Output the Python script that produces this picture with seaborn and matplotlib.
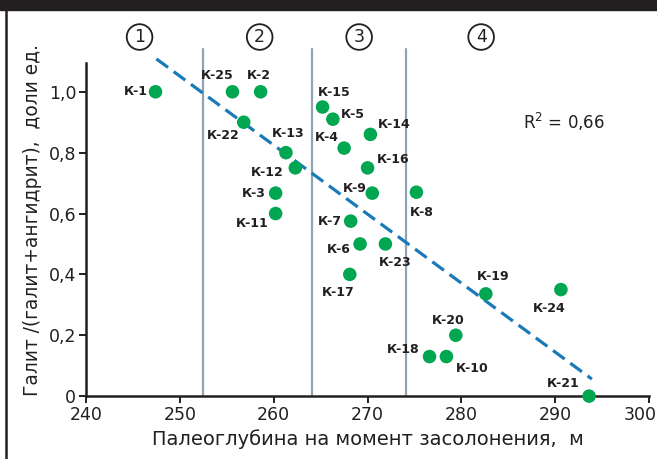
import numpy as np
import pandas as pd
import seaborn as sns
import matplotlib.pyplot as plt
from matplotlib.patches import Rectangle
from matplotlib.lines import Line2D
from matplotlib.transforms import ScaledTranslation

# well names, paleodepth (m) and halite share
wells = ['К-1', 'К-25', 'К-2', 'К-22', 'К-13', 'К-12', 'К-3', 'К-11',
         'К-15', 'К-5', 'К-14', 'К-4', 'К-16', 'К-9', 'К-8', 'К-7',
         'К-6', 'К-23', 'К-17', 'К-19', 'К-24', 'К-20', 'К-18', 'К-10', 'К-21']
depth = [247.4, 255.6, 258.6, 256.8, 261.3, 262.3, 260.2, 260.2,
         265.2, 266.3, 270.3, 267.5, 270.0, 270.5, 275.2, 268.2,
         269.2, 271.9, 268.1, 282.6, 290.6, 279.4, 276.6, 278.4, 293.6]
halite = [1.0, 1.0, 1.0, 0.9, 0.8, 0.75, 0.667, 0.6,
          0.95, 0.91, 0.86, 0.815, 0.75, 0.667, 0.67, 0.575,
          0.5, 0.5, 0.4, 0.336, 0.35, 0.2, 0.13, 0.13, 0.0]

# zone boundaries and zone numbers
zone_bounds = [252.5, 264.1, 274.1]
zone_names = ['1', '2', '3', '4']
zone_x = [245.7, 258.5, 269.1, 282.1]

# trend line endpoints
trend_x = [247.5, 293.9]
trend_y = [1.108, 0.056]
r2_text = 'R$^2$ = 0,66'

xticks = [240, 250, 260, 270, 280, 290, 300]
yticks = [0, 0.2, 0.4, 0.6, 0.8, 1.0]
ytick_labels = ['0', '0,2', '0,4', '0,6', '0,8', '1,0']

# label placement: (dx px, dy px, ha)
label_pos = {
    'К-1': (-8, 0, 'right'), 'К-25': (-15, 16, 'center'), 'К-2': (-2, 16, 'center'),
    'К-22': (-20, -13, 'center'), 'К-13': (2, 19, 'center'), 'К-12': (-12, -5, 'right'),
    'К-3': (-10, 0, 'right'), 'К-11': (-7, -10, 'right'), 'К-15': (12, 15, 'center'),
    'К-5': (8, 5, 'left'), 'К-14': (7, 10, 'left'), 'К-4': (-5, 11, 'right'),
    'К-16': (9, 8, 'left'), 'К-9': (-6, 5, 'right'), 'К-8': (5, -20, 'center'),
    'К-7': (-9, 0, 'right'), 'К-6': (-9, -6, 'right'), 'К-23': (10, -19, 'center'),
    'К-17': (-12, -18, 'center'), 'К-19': (7, 17, 'center'), 'К-24': (-12, -19, 'center'),
    'К-20': (-8, 15, 'center'), 'К-18': (-10, 7, 'right'), 'К-10': (26, -12, 'center'),
    'К-21': (-26, 13, 'center'),
}

df = pd.DataFrame({'well': wells, 'depth': depth, 'halite': halite})

sns.set_style('ticks')
plt.rcParams['font.family'] = ['DejaVu Sans']
ink = '#231f20'

fig = plt.figure(figsize=(6.57, 4.59), dpi=100)
ax = fig.add_axes([0.131, 0.137, 0.857, 0.726])

for xb in zone_bounds:
    ax.plot([xb, xb], [0, 1.14], color='#8ea3b4', lw=1.6, clip_on=False, zorder=1)

ax.plot(trend_x, trend_y, color='#1a7ab8', lw=2.3, dashes=(4.5, 2.2), clip_on=False, zorder=2)

sns.scatterplot(data=df, x='depth', y='halite', ax=ax, color='#00a650', s=95,
                edgecolor='none', clip_on=False, zorder=3)

for w, x, y in zip(wells, depth, halite):
    dx, dy, ha = label_pos[w]
    ax.annotate(w, (x, y), xytext=(dx, dy), textcoords='offset pixels',
                ha=ha, va='center', fontsize=9, fontweight='bold', color=ink)

for name, zx in zip(zone_names, zone_x):
    ax.text(zx, 1.18, name, ha='center', va='center', fontsize=12.5, color=ink,
            bbox=dict(boxstyle='circle,pad=0.22', fc='white', ec=ink, lw=1.3),
            clip_on=False)

ax.text(286.6, 0.9, r2_text, ha='left', va='center', fontsize=12, color=ink)

ax.set_xlim(240, 300)
ax.set_ylim(0, 1.095)
ax.set_xticks(xticks)
ax.set_yticks(yticks)
ax.set_yticklabels(ytick_labels)
ax.tick_params(labelsize=12.5, colors=ink, width=1.4, length=5, pad=2)
for side in ['top', 'right']:
    ax.spines[side].set_visible(False)
for side in ['left', 'bottom']:
    ax.spines[side].set_linewidth(1.8)
    ax.spines[side].set_color(ink)

# last x tick label pulled left so it stays inside the picture
last = ax.get_xticklabels()[-1]
last.set_transform(last.get_transform() + ScaledTranslation(-9 / 100, 0, fig.dpi_scale_trans))

ax.set_xlabel('Палеоглубина на момент засолонения,  м', fontsize=14, color=ink, labelpad=4)
ax.set_ylabel('Галит /(галит+ангидрит),  доли ед.', fontsize=13.4, color=ink)
ax.yaxis.set_label_coords(-0.078, 0.53)

# frame pieces of the original figure
fig.patches.append(Rectangle((0, 1 - 10 / 459), 1, 10 / 459, transform=fig.transFigure,
                             color=ink, zorder=10))
fig.lines.append(Line2D([6 / 657, 6 / 657], [0, 1], transform=fig.transFigure,
                        color=ink, lw=1.8))

fig.savefig('out.png', dpi=100)
